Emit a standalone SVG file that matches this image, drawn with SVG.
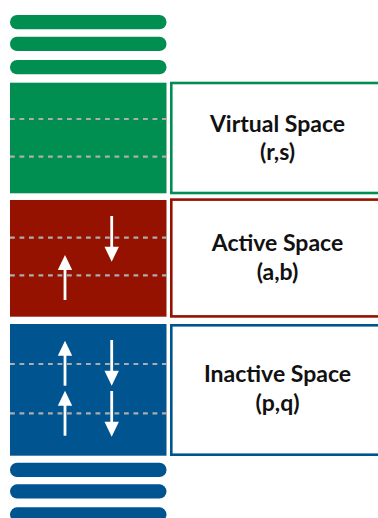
<svg xmlns="http://www.w3.org/2000/svg" width="378" height="518" viewBox="0 0 378 518">
  <style>
    .dash { stroke: #adadad; stroke-width: 2.2; stroke-dasharray: 4.8 4.7; fill: none; }
    .lbl { font-family: Lato, "Open Sans", "Liberation Sans", sans-serif; font-weight: bold; font-size: 23px; fill: #111; text-anchor: middle; }
    .box { fill: #fff; stroke-width: 2.6; }
    .shaft { stroke: #fff; stroke-width: 2.8; }
    .green { fill: #008f50; }
    .red { fill: #951200; }
    .blue { fill: #00548f; }
  </style>
  <defs>
    <path id="up" d="M0,0 L7.2,15 L-7.2,15 Z" fill="#fff"/>
    <path id="down" d="M0,0 L7.2,-15 L-7.2,-15 Z" fill="#fff"/>
  </defs>

  <g id="virtual-orbitals">
    <rect class="green" x="10" y="15" width="156.5" height="14.3" rx="7.1"/>
    <rect class="green" x="10" y="36.7" width="156.5" height="14.3" rx="7.1"/>
    <rect class="green" x="10" y="60" width="156.5" height="14.3" rx="7.1"/>
    <rect class="green" x="10" y="82.7" width="156.5" height="110.6"/>
    <line class="dash" x1="10" y1="119" x2="169" y2="119"/>
    <line class="dash" x1="10" y1="156.7" x2="169" y2="156.7"/>
  </g>
  <g id="virtual-label">
    <rect class="box" x="171.3" y="83" width="210" height="110" stroke="#008f50"/>
    <text class="lbl" x="277.5" y="132">Virtual Space</text>
    <text class="lbl" x="277.5" y="160">(r,s)</text>
  </g>

  <g id="active-orbitals">
    <rect class="red" x="10" y="200" width="156.5" height="116.7"/>
    <line class="dash" x1="10" y1="237.7" x2="169" y2="237.7"/>
    <line class="dash" x1="10" y1="275.3" x2="169" y2="275.3"/>
  </g>
  <g id="active-label">
    <rect class="box" x="171.3" y="199.6" width="210" height="116.8" stroke="#951200"/>
    <text class="lbl" x="277.5" y="250.5">Active Space</text>
    <text class="lbl" x="277.5" y="279.5">(a,b)</text>
  </g>

  <g id="inactive-orbitals">
    <rect class="blue" x="10" y="324" width="156.5" height="131.7"/>
    <line class="dash" x1="10" y1="364" x2="169" y2="364"/>
    <line class="dash" x1="10" y1="413.3" x2="169" y2="413.3"/>
    <rect class="blue" x="10" y="462.7" width="156.5" height="14.3" rx="7.1"/>
    <rect class="blue" x="10" y="484.3" width="156.5" height="14.3" rx="7.1"/>
    <rect class="blue" x="10" y="507.3" width="156.5" height="14.3" rx="7.1"/>
  </g>
  <g id="inactive-label">
    <rect class="box" x="171.3" y="325.3" width="210" height="129.4" stroke="#00548f"/>
    <text class="lbl" x="277.5" y="382">Inactive Space</text>
    <text class="lbl" x="277.5" y="410.5">(p,q)</text>
  </g>

  <g id="connectors">
    <!-- electron spins, active space -->
    <line class="shaft" x1="111.7" y1="216" x2="111.7" y2="248"/>
    <use href="#down" x="111.7" y="261.7"/>
    <line class="shaft" x1="65" y1="300" x2="65" y2="268"/>
    <use href="#up" x="65" y="255"/>
    <!-- electron spins, inactive space -->
    <line class="shaft" x1="65" y1="385.7" x2="65" y2="354"/>
    <use href="#up" x="65" y="340.7"/>
    <line class="shaft" x1="65" y1="435.7" x2="65" y2="404"/>
    <use href="#up" x="65" y="390.7"/>
    <line class="shaft" x1="111.7" y1="340" x2="111.7" y2="372"/>
    <use href="#down" x="111.7" y="385.7"/>
    <line class="shaft" x1="111.7" y1="391" x2="111.7" y2="423"/>
    <use href="#down" x="111.7" y="436.7"/>
  </g>
</svg>
